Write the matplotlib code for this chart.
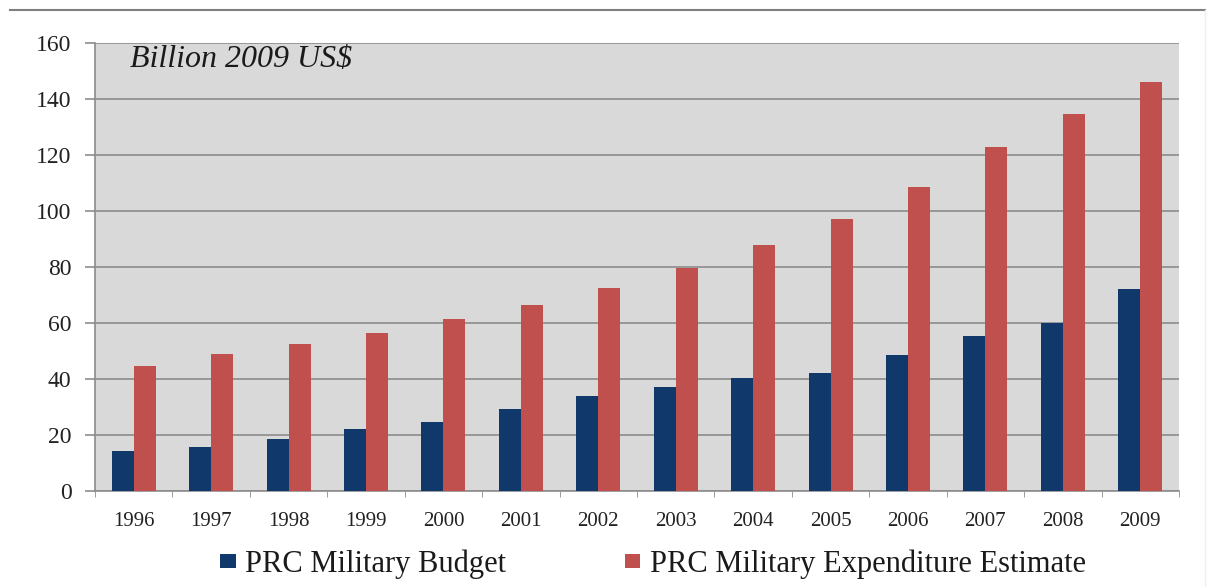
import matplotlib
matplotlib.use("Agg")
import matplotlib.pyplot as plt
import numpy as np
from matplotlib.patches import Patch
from matplotlib.lines import Line2D

years = ["1996", "1997", "1998", "1999", "2000", "2001", "2002",
         "2003", "2004", "2005", "2006", "2007", "2008", "2009"]
budget = [14.3, 15.8, 18.6, 22.2, 24.7, 29.3, 34.1, 37.0, 40.2, 42.1,
          48.5, 55.3, 59.9, 72.1]
expenditure = [44.5, 48.8, 52.6, 56.5, 61.5, 66.4, 72.6, 79.7, 88.0, 97.3,
               108.5, 122.9, 134.6, 146.2]
series_names = ["PRC Military Budget", "PRC Military Expenditure Estimate"]
unit_label = "Billion 2009 US$"
yticks = [0, 20, 40, 60, 80, 100, 120, 140, 160]

BLUE = "#10386b"
RED = "#c0504d"
BG = "#d9d9d9"
GRID = "#8c8c8c"
FONT = "Liberation Serif"

W, H = 1212, 587
fig = plt.figure(figsize=(W / 100, H / 100), dpi=100)
fig.patch.set_facecolor("white")

left, right, top, bottom = 95, 1179, 43, 491
ax = fig.add_axes([left / W, 1 - bottom / H, (right - left) / W, (bottom - top) / H])
ax.set_facecolor(BG)

x = np.arange(len(years))
bw = 0.285
ax.bar(x - bw / 2, budget, width=bw, color=BLUE, zorder=3, linewidth=0)
ax.bar(x + bw / 2, expenditure, width=bw, color=RED, zorder=3, linewidth=0)

ax.set_xlim(-0.5, len(years) - 0.5)
ax.set_ylim(0, 160)
ax.set_yticks(yticks)
ax.set_yticklabels([str(v) for v in yticks], fontfamily=FONT, fontsize=17, color="#222222")
ax.yaxis.grid(True, color=GRID, linewidth=1.2, zorder=1)
ax.set_axisbelow(True)

ax.set_xticks(x)
ax.set_xticklabels(years, fontfamily=FONT, fontsize=15, color="#222222")
ax.set_xticks(np.arange(-0.5, len(years)), minor=True)
ax.tick_params(axis="x", which="major", length=0, pad=15)
ax.tick_params(axis="x", which="minor", length=4, color=GRID, direction="out")
ax.tick_params(axis="y", length=7, color=GRID, width=1.2, pad=10)

for s in ["top", "right"]:
    ax.spines[s].set_visible(False)
for s in ["left", "bottom"]:
    ax.spines[s].set_color(GRID)
    ax.spines[s].set_linewidth(1.2)

fig.text(130 / W, 1 - 67 / H, unit_label, fontfamily=FONT, style="italic",
         fontsize=23, color="#1a1a1a", va="baseline", ha="left")

handles = [Patch(facecolor=BLUE, edgecolor="none"), Patch(facecolor=RED, edgecolor="none")]
fig.legend(handles, series_names, loc="center", bbox_to_anchor=(653 / W, 1 - 564 / H),
           ncol=2, frameon=False, prop={"family": FONT, "size": 22},
           handlelength=0.5, handleheight=0.35, handletextpad=0.3,
           columnspacing=3.9, labelcolor="#1a1a1a")

# decorative frame lines of the slide
fig.add_artist(Line2D([10 / W, 1205 / W], [1 - 10 / H, 1 - 10 / H],
                      transform=fig.transFigure, color="#7f7f7f", linewidth=1.5))
fig.add_artist(Line2D([1205 / W, 1205 / W], [0, 1 - 10 / H],
                      transform=fig.transFigure, color="#eeeeee", linewidth=1.0))

fig.savefig("out.png", dpi=100, facecolor="white")
